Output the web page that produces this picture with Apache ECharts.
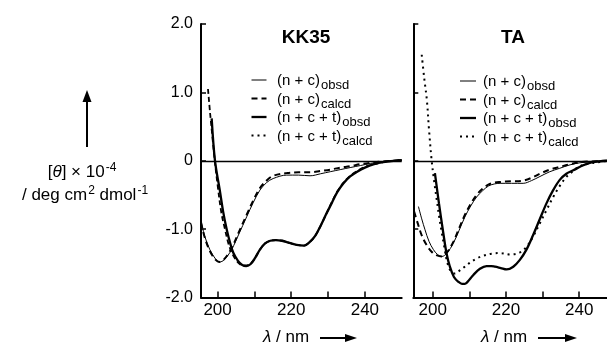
<!DOCTYPE html>
<html><head><meta charset="utf-8">
<script src="https://cdn.jsdelivr.net/npm/echarts@6/dist/echarts.min.js"></script>
<style>html,body{margin:0;padding:0;background:#fff}#c{width:607px;height:345px}</style>
</head><body><div id="c"></div>
<script>
// ---------- data ----------
const panelTitles = ['KK35', 'TA'];
const yTicks = [-2, -1, 0, 1, 2];
const xTicks = [200, 210, 220, 230, 240];
const xLabels = [200, 220, 240];

// KK35 panel
const kk_nc_obsd_x = [195.5, 196.5, 197.9, 199.5, 200.5, 201.8, 203.8, 205.8, 207.9, 209.7, 211.5, 213.3, 215.1, 218.8, 222, 225.1, 228, 230.6, 233.3, 236, 238.8, 241.5, 245, 250];
const kk_nc_obsd_y = [-0.88, -1.10, -1.30, -1.44, -1.48, -1.45, -1.30, -1.07, -0.82, -0.61, -0.43, -0.32, -0.26, -0.21, -0.21, -0.22, -0.19, -0.16, -0.13, -0.10, -0.07, -0.04, -0.01, 0.01];
const kk_nc_calcd_x = [195.5, 196.5, 197.9, 199.5, 200.5, 201.8, 203.8, 205.8, 207.9, 209.7, 211.5, 213.3, 215.1, 218.8, 222, 225.1, 228, 230.6, 233.3, 236, 238.8, 241.5, 245, 250];
const kk_nc_calcd_y = [-0.90, -1.12, -1.32, -1.45, -1.48, -1.44, -1.28, -1.04, -0.79, -0.58, -0.40, -0.29, -0.22, -0.18, -0.17, -0.17, -0.15, -0.13, -0.10, -0.08, -0.05, -0.03, -0.01, 0.01];
const kk_nct_obsd_x = [198.4, 199.3, 200.6, 201.5, 202.5, 203.4, 204.3, 205.5, 206.6, 207.8, 209.0, 210.2, 211.5, 212.9, 214.3, 215.8, 217.5, 219.5, 221.5, 223.5, 225.0, 226.5, 228.0, 229.5, 231.0, 232.5, 234.2, 236.0, 237.9, 240.0, 242.5, 245, 250];
const kk_nct_obsd_y = [0.62, 0.0, -0.43, -0.74, -1.01, -1.20, -1.35, -1.46, -1.52, -1.54, -1.51, -1.42, -1.30, -1.21, -1.17, -1.16, -1.17, -1.20, -1.23, -1.24, -1.19, -1.10, -0.95, -0.78, -0.62, -0.46, -0.33, -0.23, -0.16, -0.10, -0.05, -0.02, 0.01];
const kk_nct_calcd_x = [197.4, 198.0, 198.6, 199.2, 200.0, 201.0, 202.0, 203.0, 204.0, 205.0, 206.0, 207.0, 208.0, 209.0, 210.2, 211.5, 212.9, 214.3, 215.8, 217.5, 219.5, 221.5, 223.5, 225.0, 226.5, 228.0, 229.5, 231.0, 232.5, 234.2, 236.0, 237.9, 240.0, 242.5, 245, 250];
const kk_nct_calcd_y = [1.05, 0.68, 0.35, 0.02, -0.35, -0.75, -1.00, -1.22, -1.36, -1.45, -1.51, -1.53, -1.53, -1.50, -1.42, -1.30, -1.21, -1.17, -1.16, -1.17, -1.20, -1.23, -1.24, -1.19, -1.10, -0.95, -0.78, -0.61, -0.45, -0.32, -0.22, -0.15, -0.09, -0.05, -0.02, 0.01];

// TA panel
const ta_nc_obsd_x = [196.1, 197.0, 197.9, 199.0, 200.2, 201.3, 202.5, 203.9, 205.6, 207.2, 208.8, 210.4, 212.0, 213.6, 215.2, 216.8, 218.4, 221.5, 224.7, 227.0, 229.3, 232.0, 234.7, 237.5, 240.2, 243.5, 247.6];
const ta_nc_obsd_y = [-0.67, -0.85, -1.01, -1.18, -1.30, -1.37, -1.40, -1.35, -1.21, -1.02, -0.82, -0.66, -0.53, -0.44, -0.37, -0.34, -0.33, -0.33, -0.33, -0.29, -0.23, -0.16, -0.11, -0.06, -0.03, -0.01, 0.0];
const ta_nc_calcd_x = [194.9, 196.0, 197.0, 198.3, 199.7, 201.0, 202.5, 203.9, 205.6, 207.2, 208.8, 210.4, 212.0, 213.6, 215.2, 216.8, 218.4, 221.5, 224.7, 227.0, 229.3, 232.0, 234.7, 237.5, 240.2, 243.5, 247.6];
const ta_nc_calcd_y = [-0.74, -0.93, -1.09, -1.23, -1.33, -1.38, -1.40, -1.34, -1.19, -0.99, -0.79, -0.63, -0.50, -0.41, -0.35, -0.32, -0.31, -0.30, -0.29, -0.25, -0.19, -0.13, -0.09, -0.05, -0.02, -0.01, 0.0];
const ta_nct_obsd_x = [200.6, 201.7, 202.9, 203.8, 204.7, 205.8, 207.0, 208.0, 208.8, 210.0, 211.1, 212.9, 214.7, 216.0, 217.0, 218.6, 220.2, 222.0, 223.8, 225.6, 227.4, 229.2, 231.1, 232.9, 234.7, 236.5, 238.4, 240.5, 242.9, 245.5, 247.6];
const ta_nct_obsd_y = [-0.18, -0.62, -1.06, -1.36, -1.55, -1.70, -1.77, -1.80, -1.80, -1.74, -1.67, -1.58, -1.54, -1.54, -1.55, -1.57, -1.59, -1.55, -1.45, -1.30, -1.09, -0.86, -0.62, -0.43, -0.28, -0.19, -0.14, -0.08, -0.03, -0.01, 0.0];
const ta_nct_calcd_x = [197.0, 197.7, 198.4, 199.0, 199.7, 200.4, 201.1, 201.8, 202.5, 203.2, 203.8, 204.5, 205.2, 206.1, 207.0, 208.5, 210.2, 212.0, 213.8, 216.0, 218.4, 221.1, 223.5, 225.6, 227.5, 229.3, 231.1, 232.9, 234.8, 236.6, 238.4, 240.2, 242.9, 245.6, 247.6];
const ta_nct_calcd_y = [1.55, 1.20, 0.89, 0.45, 0.01, -0.30, -0.57, -0.83, -1.06, -1.27, -1.45, -1.57, -1.63, -1.65, -1.62, -1.56, -1.49, -1.43, -1.39, -1.36, -1.35, -1.37, -1.35, -1.26, -1.10, -0.91, -0.72, -0.53, -0.36, -0.23, -0.15, -0.08, -0.04, -0.02, 0.0];

// ---------- chart ----------
const FONT = '"Liberation Sans", Arial, Helvetica, sans-serif';
const zip = (xs, ys) => xs.map((x, i) => [x, ys[i]]);
const styles = {
  thin:   { color: '#000', width: 1, type: 'solid' },
  dash:   { color: '#000', width: 2, type: [6, 4] },
  thick:  { color: '#000', width: 2.3, type: 'solid' },
  dot:    { color: '#000', width: 2, type: [2, 4] },
  dashK:  { color: '#000', width: 1.8, type: [5, 3] }
};
function line(name, xs, ys, st, idx, extra) {
  return Object.assign({
    name, type: 'line', xAxisIndex: idx, yAxisIndex: idx,
    data: zip(xs, ys), showSymbol: false, symbol: 'none', smooth: 0.35,
    lineStyle: st, silent: true, animation: false, z: 3
  }, extra || {});
}
const zeroLine = {
  silent: true, symbol: 'none', animation: false,
  label: { show: false },
  lineStyle: { color: '#000', width: 1.3, type: 'solid' },
  data: [{ yAxis: 0 }]
};

function xAxis(idx, min, max) {
  return {
    type: 'value', gridIndex: idx, min, max,
    axisLine: { show: true, onZero: false, lineStyle: { color: '#000', width: 2 } },
    axisTick: { show: true, inside: true, length: 6, lineStyle: { color: '#000', width: 1.5 }, customValues: xTicks },
    axisLabel: { show: true, color: '#000', fontSize: 17, fontFamily: FONT, margin: 4, customValues: xLabels },
    splitLine: { show: false }
  };
}
function yAxis(idx, showLabel) {
  return {
    type: 'value', gridIndex: idx, min: -2, max: 2, interval: 1,
    axisLine: { show: true, onZero: false, lineStyle: { color: '#000', width: 2 } },
    axisTick: { show: true, inside: true, length: 5, lineStyle: { color: '#000', width: 1.5 } },
    axisLabel: { show: showLabel, color: '#000', fontSize: 16, fontFamily: FONT, margin: 8,
      formatter: v => (v === 0 ? '0' : v.toFixed(1)) },
    splitLine: { show: false }
  };
}

const subRich = {
  m: { fontSize: 15, fontFamily: FONT, color: '#000' },
  s: { fontSize: 13, fontFamily: FONT, color: '#000', padding: [9, 0, 0, 1] }
};
const legendRows = [
  ['(n + c)', 'obsd', 'thin'],
  ['(n + c)', 'calcd', 'dash'],
  ['(n + c + t)', 'obsd', 'thick'],
  ['(n + c + t)', 'calcd', 'dot']
];
function legend(x0, x1, tx, y0, dy) {
  const els = [];
  legendRows.forEach((r, i) => {
    const y = y0 + i * dy;
    const st = styles[r[2]];
    els.push({ type: 'line', shape: { x1: x0, y1: y, x2: x1, y2: y },
      style: { stroke: '#000', lineWidth: st.width, lineDash: Array.isArray(st.type) ? st.type : null } });
    els.push({ type: 'text', x: tx, y: y + 1,
      style: { text: '{m|' + r[0] + '}{s|' + r[1] + '}', rich: subRich, verticalAlign: 'middle', align: 'left' } });
  });
  return els;
}
function xTitle(tx, ax0, ax1, y) {
  return [
    { type: 'text', x: tx, y: y, style: { text: '{i|λ}{n| / nm}', verticalAlign: 'middle', align: 'left',
      rich: { i: { fontSize: 17, fontStyle: 'italic', fontFamily: FONT, color: '#000' },
              n: { fontSize: 17, fontFamily: FONT, color: '#000' } } } },
    { type: 'line', shape: { x1: ax0, y1: y + 1, x2: ax1 - 8, y2: y + 1 }, style: { stroke: '#000', lineWidth: 2 } },
    { type: 'polygon', shape: { points: [[ax1, y + 1], [ax1 - 12, y - 3], [ax1 - 12, y + 5]] }, style: { fill: '#000' } }
  ];
}

const graphics = [].concat(
  [
    { type: 'text', x: 306, y: 38, style: { text: panelTitles[0], font: 'bold 19px ' + FONT, fill: '#000', align: 'center', verticalAlign: 'middle' } },
    { type: 'text', x: 513, y: 38, style: { text: panelTitles[1], font: 'bold 19px ' + FONT, fill: '#000', align: 'center', verticalAlign: 'middle' } },
    { type: 'line', shape: { x1: 87, y1: 147, x2: 87, y2: 100 }, style: { stroke: '#000', lineWidth: 2 } },
    { type: 'polygon', shape: { points: [[87, 90], [82.5, 102], [91.5, 102]] }, style: { fill: '#000' } },
    { type: 'text', x: 82, y: 172, style: { text: '[{i|θ}] × 10{p|-4}', align: 'center', verticalAlign: 'middle',
      fontSize: 17, fontFamily: FONT, fill: '#000',
      rich: { i: { fontSize: 17, fontStyle: 'italic', fontFamily: FONT, color: '#000' },
              p: { fontSize: 12, fontFamily: FONT, color: '#000', padding: [0, 0, 9, 1] } } } },
    { type: 'text', x: 85, y: 195, style: { text: '/ deg cm{p|2} dmol{p|-1}', align: 'center', verticalAlign: 'middle',
      fontSize: 17, fontFamily: FONT, fill: '#000',
      rich: { p: { fontSize: 12, fontFamily: FONT, color: '#000', padding: [0, 0, 9, 1] } } } }
  ],
  legend(251.5, 266.5, 277, 80, 18.5),
  legend(460, 476, 483, 81, 18.5),
  xTitle(263, 320, 357, 337),
  xTitle(481, 538, 577, 337)
);

const chart = echarts.init(document.getElementById('c'), null, { renderer: 'canvas' });
chart.setOption({
  animation: false,
  backgroundColor: '#fff',
  grid: [
    { left: 201, top: 24, width: 200.7, height: 273.5 },
    { left: 413.3, top: 24, width: 193.7, height: 273.5 }
  ],
  xAxis: [xAxis(0, 195.5, 250), xAxis(1, 194.7, 247.6)],
  yAxis: [yAxis(0, true), yAxis(1, false)],
  series: [
    line('(n + c)obsd', kk_nc_obsd_x, kk_nc_obsd_y, styles.thin, 0, { markLine: zeroLine }),
    line('(n + c)calcd', kk_nc_calcd_x, kk_nc_calcd_y, styles.dash, 0),
    line('(n + c + t)calcd', kk_nct_calcd_x, kk_nct_calcd_y, styles.dashK, 0),
    line('(n + c + t)obsd', kk_nct_obsd_x, kk_nct_obsd_y, styles.thick, 0),
    line('(n + c)obsd', ta_nc_obsd_x, ta_nc_obsd_y, styles.thin, 1, { markLine: zeroLine }),
    line('(n + c)calcd', ta_nc_calcd_x, ta_nc_calcd_y, styles.dash, 1),
    line('(n + c + t)obsd', ta_nct_obsd_x, ta_nct_obsd_y, styles.thick, 1),
    line('(n + c + t)calcd', ta_nct_calcd_x, ta_nct_calcd_y, styles.dot, 1)
  ],
  graphic: graphics
});
</script></body></html>
